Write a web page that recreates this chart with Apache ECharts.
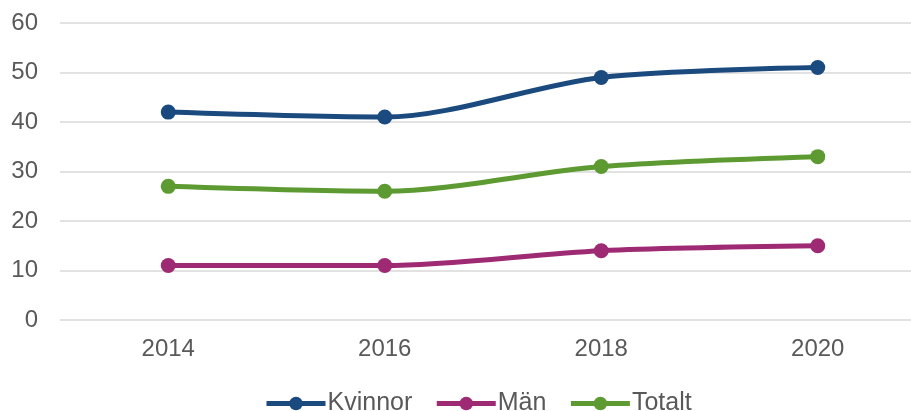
<!DOCTYPE html>
<html><head><meta charset="utf-8">
<script src="https://cdn.jsdelivr.net/npm/echarts@6/dist/echarts.min.js"></script>
<style>html,body{margin:0;padding:0;background:#fff;overflow:hidden;width:911px;height:411px}#c{width:930px;height:411px}</style>
</head><body><div id="c"></div>
<script>
const categories = ['2014', '2016', '2018', '2020'];
const kvinnor = [42, 41, 49, 51];
const man = [11, 11, 14, 15];
const totalt = [27, 26, 31, 33];
const seriesNames = ['Kvinnor', 'Män', 'Totalt'];
const colors = ['#1B4A7E', '#9E2A74', '#5E9A32'];

const chart = echarts.init(document.getElementById('c'), null, {renderer: 'canvas'});
const mk = (name, data, color) => ({
  name, type: 'line', data, smooth: 0.3, symbol: 'circle', symbolSize: 15,
  lineStyle: {width: 5, color}, itemStyle: {color}, color
});
chart.setOption({
  animation: false,
  textStyle: {fontFamily: 'Liberation Sans, Arial, sans-serif'},
  grid: {left: 60, top: 23, width: 866, height: 297, containLabel: false},
  legend: {
    top: 386, left: 259, itemWidth: 59, itemHeight: 17, itemGap: 22,
    lineStyle: {width: 5},
    textStyle: {fontSize: 25, color: '#595959', padding: [0, 0, 0, -3]},
    data: seriesNames
  },
  xAxis: {
    type: 'category', data: categories, boundaryGap: true,
    axisLine: {show: false}, axisTick: {show: false},
    axisLabel: {fontSize: 24, color: '#595959', margin: 17}
  },
  yAxis: {
    type: 'value', min: 0, max: 60, interval: 10,
    axisLabel: {fontSize: 24, color: '#595959', margin: 22},
    splitLine: {lineStyle: {color: '#D9D9D9', width: 1.5}},
    axisLine: {show: false}, axisTick: {show: false}
  },
  series: [
    mk(seriesNames[0], kvinnor, colors[0]),
    mk(seriesNames[1], man, colors[1]),
    mk(seriesNames[2], totalt, colors[2])
  ]
});
</script></body></html>
